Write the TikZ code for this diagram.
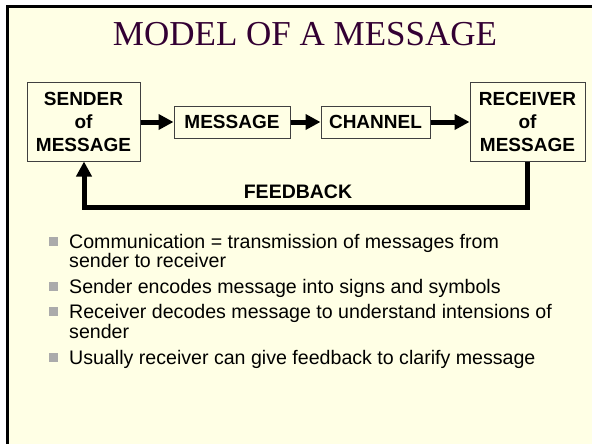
\documentclass[tikz,border=0pt]{standalone}
\usepackage{fontspec}
\setmainfont{Liberation Serif}
\newfontfamily\arialfont{Liberation Sans}
\usetikzlibrary{arrows.meta}
\definecolor{slidebg}{HTML}{FFFFE5}
\definecolor{titlecol}{HTML}{330033}
\definecolor{bulletgray}{HTML}{ABABAB}
\definecolor{boxline}{HTML}{404040}
\begin{document}
\begin{tikzpicture}[x=1pt,y=-1pt,
  block/.style={draw=boxline, line width=1pt, fill=slidebg, align=center, inner sep=0pt,
    font=\arialfont\bfseries\fontsize{19}{23}\selectfont},
  flow/.style={line width=5pt, -{Triangle[length=15pt,width=15pt]}},
  sqbullet/.style={fill=bulletgray, minimum size=9pt, inner sep=0pt},
  itemline/.style={anchor=base west, inner sep=0pt, font=\arialfont\fontsize{19.6}{22}\selectfont}]
\useasboundingbox (0,0) rectangle (592,444);
% slide background and frame
\fill[white] (0,0) rectangle (592,444);
\fill[slidebg] (7.5,6.5) rectangle (592,444);
\draw[line width=3pt, black] (7.5,444) -- (7.5,6.5) -- (592,6.5);

% title
\node[titlecol, inner sep=0pt, anchor=base, font=\fontsize{35}{40}\selectfont] (title) at (305,46) {MODEL OF A MESSAGE};

% blocks
\node[block, minimum width=113pt, minimum height=78pt] (sender) at (83.5,122) {SENDER\\of\\MESSAGE};
\node[block, minimum width=116pt, minimum height=32pt] (message) at (232,122) {MESSAGE};
\node[block, minimum width=109pt, minimum height=32pt] (channel) at (375.5,122) {CHANNEL};
\node[block, minimum width=115pt, minimum height=78pt] (receiver) at (527.5,122) {RECEIVER\\of\\MESSAGE};

% forward flow
\draw[flow] (sender) -- (message);
\draw[flow] (message) -- (channel);
\draw[flow] (channel) -- (receiver);

% feedback loop
\coordinate (fbR) at (527.5,207);
\coordinate (fbL) at (84,207);
\draw[flow, line join=miter] (receiver.south) -- (fbR) -- (fbL) -- (sender.south -| fbL);
\node[inner sep=0pt, font=\arialfont\bfseries\fontsize{19.5}{22}\selectfont] (fblabel) at (298,192) {FEEDBACK};

% bullet list
\node[sqbullet] (b1) at (53,241) {};
\node[itemline] (t1a) at (69,248) {Communication = transmission of messages from};
\node[itemline] (t1b) at (69,267) {sender to receiver};
\node[sqbullet] (b2) at (53,286) {};
\node[itemline] (t2) at (69,293) {Sender encodes message into signs and symbols};
\node[sqbullet] (b3) at (53,311) {};
\node[itemline] (t3a) at (69,318) {Receiver decodes message to understand intensions of};
\node[itemline] (t3b) at (69,338) {sender};
\node[sqbullet] (b4) at (53,357) {};
\node[itemline] (t4) at (69,364) {Usually receiver can give feedback to clarify message};
\end{tikzpicture}
\end{document}
